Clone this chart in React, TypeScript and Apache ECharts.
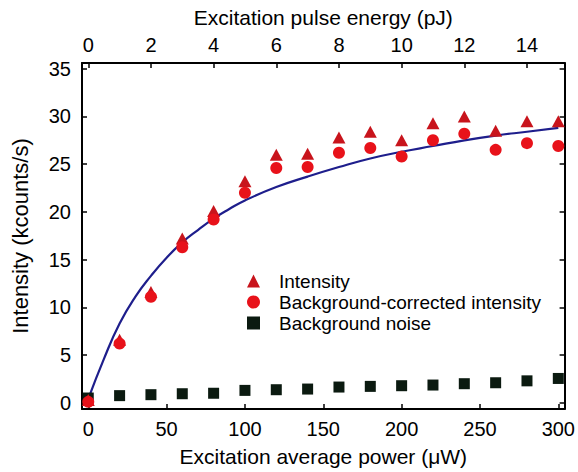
import React, { useEffect, useRef } from "react";
import * as echarts from "echarts";

const powerX = [0, 20, 40, 60, 80, 100, 120, 140, 160, 180, 200, 220, 240, 260, 280, 300];
const intensity = [0.3, 6.6, 11.6, 17.2, 20.1, 23.2, 26.0, 26.1, 27.8, 28.4, 27.5, 29.3, 30.0, 28.5, 29.5, 29.5];
const corrected = [0.1, 6.2, 11.1, 16.3, 19.2, 22.0, 24.6, 24.7, 26.2, 26.7, 25.8, 27.5, 28.2, 26.5, 27.2, 26.9];
const noise = [0.5, 0.75, 0.85, 0.95, 1.0, 1.3, 1.37, 1.44, 1.65, 1.72, 1.79, 1.86, 2.0, 2.1, 2.3, 2.55];

const fitX = [0, 10, 20, 30, 40, 50, 60, 70, 80, 90, 100, 120, 140, 160, 180, 200, 220, 240, 260, 280, 300];
const fitY = [0.4, 4.6, 8.3, 11.1, 13.3, 15.2, 16.8, 18.1, 19.3, 20.3, 21.2, 22.6, 23.7, 24.7, 25.6, 26.3, 26.9, 27.5, 28.0, 28.4, 28.8];

const bottomTicks = [0, 50, 100, 150, 200, 250, 300];
const topTicks = [0, 2, 4, 6, 8, 10, 12, 14];
const yTicks = [0, 5, 10, 15, 20, 25, 30, 35];

const FONT = "'Liberation Sans', Arial, Helvetica, sans-serif";

export default function App() {
  const ref = useRef<HTMLDivElement>(null);
  useEffect(() => {
    if (!ref.current) return;
    const chart = echarts.init(ref.current, undefined, { renderer: "svg" });
    const axisLine = () => ({ show: true, onZero: false, lineStyle: { color: "#000", width: 2 } });
    const tick = (vals: number[]) => ({ show: true, inside: true, length: 5, customValues: vals, lineStyle: { color: "#000", width: 1.5 } });
    const lbl = (vals: number[], margin: number) => ({
      show: true,
      customValues: vals,
      margin,
      color: "#000",
      fontSize: 20,
      fontFamily: FONT,
    });
    chart.setOption({
      animation: false,
      backgroundColor: "#fff",
      grid: { left: 82, right: 10, top: 63, bottom: 59, containLabel: false },
      legend: {
        orient: "vertical",
        left: 242,
        top: 266,
        itemWidth: 13,
        itemHeight: 13,
        itemGap: 1,
        textStyle: { fontSize: 19, fontFamily: FONT, color: "#000", lineHeight: 20, padding: [0, 0, 0, 14] },
        data: [
          { name: "Intensity", icon: "triangle" },
          { name: "Background-corrected intensity", icon: "circle" },
          { name: "Background noise", icon: "rect" },
        ],
      },
      xAxis: [
        {
          type: "value",
          position: "bottom",
          min: -4,
          max: 304,
          axisLine: axisLine(),
          axisTick: tick(bottomTicks),
          axisLabel: lbl(bottomTicks, 10),
          splitLine: { show: false },
          name: "Excitation average power (\u03bcW)",
          nameLocation: "middle",
          nameGap: 37,
          nameTextStyle: { fontSize: 21, fontFamily: FONT, color: "#000" },
        },
        {
          type: "value",
          position: "top",
          min: -0.2,
          max: 15.2,
          axisLine: axisLine(),
          axisTick: tick(topTicks),
          axisLabel: lbl(topTicks, 8),
          splitLine: { show: false },
          name: "Excitation pulse energy (pJ)",
          nameLocation: "middle",
          nameGap: 35,
          nameTextStyle: { fontSize: 21, fontFamily: FONT, color: "#000" },
        },
      ],
      yAxis: [
        {
          type: "value",
          position: "left",
          min: -0.65,
          max: 35.6,
          axisLine: axisLine(),
          axisTick: tick(yTicks),
          axisLabel: lbl(yTicks, 11),
          splitLine: { show: false },
          name: "Intensity (kcounts/s)",
          nameLocation: "middle",
          nameGap: 51,
          nameTextStyle: { fontSize: 22, fontFamily: FONT, color: "#000" },
        },
        {
          type: "value",
          position: "right",
          min: -0.65,
          max: 35.6,
          axisLine: axisLine(),
          axisTick: tick(yTicks),
          axisLabel: { show: false },
          splitLine: { show: false },
        },
      ],
      series: [
        {
          name: "Fit",
          type: "line",
          smooth: true,
          symbol: "none",
          data: fitX.map((x, i) => [x, fitY[i]]),
          lineStyle: { color: "#1e1e8c", width: 2.2 },
          z: 1,
        },
        {
          name: "Background noise",
          type: "scatter",
          symbol: "rect",
          symbolSize: 11,
          itemStyle: { color: "#0b1a10", opacity: 1 },
          data: powerX.map((x, i) => [x, noise[i]]),
          z: 2,
        },
        {
          name: "Intensity",
          type: "scatter",
          symbol: "triangle",
          symbolSize: [13, 12],
          itemStyle: { color: "#c8141c", opacity: 1 },
          data: powerX.map((x, i) => [x, intensity[i]]),
          z: 3,
        },
        {
          name: "Background-corrected intensity",
          type: "scatter",
          symbol: "circle",
          symbolSize: 12,
          itemStyle: { color: "#e8121a", opacity: 1 },
          data: powerX.map((x, i) => [x, corrected[i]]),
          z: 4,
        },
      ],
    });
    return () => chart.dispose();
  }, []);
  return <div ref={ref} style={{ width: 578, height: 472, position: "absolute", left: 0, top: 0 }} />;
}
